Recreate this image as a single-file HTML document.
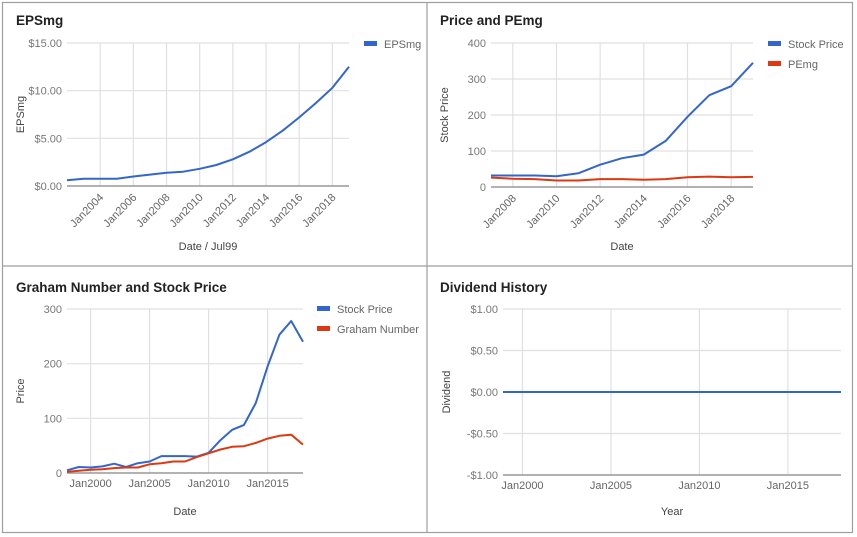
<!DOCTYPE html>
<html><head><meta charset="utf-8"><style>
body{margin:0;background:#fff;}
svg{display:block;font-family:"Liberation Sans",Arial,sans-serif;}
</style></head><body>
<svg id="svg" width="857" height="537">
<rect x="0" y="0" width="857" height="537" fill="#fff"/>
<g id="frame">
<rect x="2.5" y="2.5" width="850" height="530" fill="none" stroke="#9e9e9e" stroke-width="1.2"/>
<line x1="427" y1="2" x2="427" y2="533" stroke="#9e9e9e" stroke-width="1.2"/>
<line x1="2" y1="266" x2="853" y2="266" stroke="#9e9e9e" stroke-width="1.2"/>
</g>
</svg>
<script>
// Chart 1: EPSmg
const epsYears=[2002,2003,2004,2005,2006,2007,2008,2009,2010,2011,2012,2013,2014,2015,2016,2017,2018,2019];
const epsValues=[0.6,0.75,0.75,0.75,1.0,1.2,1.4,1.5,1.8,2.2,2.8,3.6,4.6,5.8,7.2,8.7,10.3,12.5];
const epsTicks=[0,5,10,15];
const epsTickLabels=["$0.00","$5.00","$10.00","$15.00"];
const epsXTicks=[2004,2006,2008,2010,2012,2014,2016,2018];
// Chart 2: Price and PEmg
const ppYears=[2007,2008,2009,2010,2011,2012,2013,2014,2015,2016,2017,2018,2019];
const ppStock=[32,32,32,30,38,62,80,90,128,195,255,280,345];
const ppPE=[26,23,22,18,18,22,22,20,22,27,29,27,28];
const ppTicks=[0,100,200,300,400];
const ppXTicks=[2008,2010,2012,2014,2016,2018];
// Chart 3: Graham
const grYears=[1998,1999,2000,2001,2002,2003,2004,2005,2006,2007,2008,2009,2010,2011,2012,2013,2014,2015,2016,2017,2018];
const grStock=[5,11,10,12,17,11,18,21,31,31,31,30,37,60,79,88,128,195,253,278,240];
const grGraham=[2,4,6,7,9,10,10,16,18,21,21,29,36,43,48,49,55,63,68,70,52];
const grTicks=[0,100,200,300];
const grXTicks=[2000,2005,2010,2015];
// Chart 4: Dividend
const dvYears=[1998.9,2000,2005,2010,2015,2018];
const dvValues=[0,0,0,0,0,0];
const dvTicks=[-1,-0.5,0,0.5,1];
const dvTickLabels=["-$1.00","-$0.50","$0.00","$0.50","$1.00"];
const dvXTicks=[2000,2005,2010,2015];

const NS="http://www.w3.org/2000/svg";
const svg=document.getElementById('svg');
function mk(tag,attrs,parent,text){const e=document.createElementNS(NS,tag);for(const k in attrs)e.setAttribute(k,attrs[k]);if(text!==undefined)e.textContent=text;(parent||svg).appendChild(e);return e;}
const BLUE="#3366cc",RED="#dc3912";

function chart(cfg){
  const g=mk('g',{});
  
  
  const sx=v=>cfg.x0+(v-cfg.xmin)/(cfg.xmax-cfg.xmin)*(cfg.x1-cfg.x0);
  const sy=v=>cfg.y0+(v-cfg.ymin)/(cfg.ymax-cfg.ymin)*(cfg.y1-cfg.y0);
  const t=mk('text',{x:cfg.tx,y:cfg.ty,'font-size':13.5,'font-weight':'bold',fill:'#222'},g,cfg.title);
  
  
  cfg.xticks.forEach(v=>{
    const l=mk('line',{x1:sx(v),x2:sx(v),y1:cfg.y1,y2:cfg.y0,stroke:'#e0e0e0','stroke-width':1.2},g);
    
    
    const lab='Jan'+v;
    let tx;
    if(cfg.rot){tx=mk('text',{x:sx(v)+4,y:cfg.y0+12,'font-size':11,fill:'#666','text-anchor':'end',transform:`rotate(-45 ${sx(v)+4} ${cfg.y0+12})`},g,lab);}
    else{tx=mk('text',{x:sx(v),y:cfg.y0+14,'font-size':11,fill:'#666','text-anchor':'middle'},g,lab);}
    
    
  });
  cfg.yticks.forEach((v,i)=>{
    const l=mk('line',{x1:cfg.x0,x2:cfg.x1,y1:sy(v),y2:sy(v),stroke:(v===cfg.base?'#999':'#e0e0e0'),'stroke-width':(v===cfg.base?1.5:1.2)},g);
    
    
    const tx=mk('text',{x:cfg.x0-5,y:sy(v)+4,'font-size':11,fill:'#777','text-anchor':'end'},g,cfg.ylabels?cfg.ylabels[i]:String(v));
    
    
  });
  const yt=mk('text',{x:cfg.ytx,y:(cfg.y0+cfg.y1)/2,'font-size':11,fill:'#444','text-anchor':'middle',transform:`rotate(-90 ${cfg.ytx} ${(cfg.y0+cfg.y1)/2})`},g,cfg.ytitle);
  
  
  const xt=mk('text',{x:(cfg.x0+cfg.x1)/2,y:cfg.xty,'font-size':11,fill:'#444','text-anchor':'middle'},g,cfg.xtitle);
  
  
  cfg.series.forEach((s,i)=>{
    const d=s.vals.map((v,j)=>(j?'L':'M')+sx(cfg.xs[j]).toFixed(1)+' '+sy(v).toFixed(1)).join(' ');
    const p=mk('path',{d,fill:'none',stroke:s.color,'stroke-width':2,'stroke-linejoin':'round'},g);
    
    
    if(cfg.legend){
      const ly=cfg.legend.y+i*20;
      const r=mk('rect',{x:cfg.legend.x,y:ly-3,width:13,height:5,fill:s.color},g);
      
      
      const lt=mk('text',{x:cfg.legend.x+20,y:ly+4,'font-size':11,fill:'#666'},g,s.label);
      
      
    }
  });
}
chart({name:'epsmg-chart',title:'EPSmg',tx:16,ty:25,x0:67,x1:349,xmin:2002,xmax:2019,y0:186,y1:43,ymin:0,ymax:15,base:0,
  xticks:epsXTicks,yticks:epsTicks,ylabels:epsTickLabels,rot:true,ytitle:'EPSmg',ytx:24,xtitle:'Date / Jul99',xty:250,
  xs:epsYears,series:[{key:'epsmg',label:'EPSmg',vals:epsValues,color:BLUE}],legend:{x:364,y:44}});
chart({name:'price-pemg-chart',title:'Price and PEmg',tx:440,ty:25,x0:491,x1:753,xmin:2007,xmax:2019,y0:187,y1:43,ymin:0,ymax:400,base:0,
  xticks:ppXTicks,yticks:ppTicks,rot:true,ytitle:'Stock Price',ytx:448,xtitle:'Date',xty:250,
  xs:ppYears,series:[{key:'stock-price',label:'Stock Price',vals:ppStock,color:BLUE},{key:'pemg',label:'PEmg',vals:ppPE,color:RED}],legend:{x:768,y:44}});
chart({name:'graham-chart',title:'Graham Number and Stock Price',tx:16,ty:292,x0:67,x1:303,xmin:1998,xmax:2018,y0:473,y1:309,ymin:0,ymax:300,base:0,
  xticks:grXTicks,yticks:grTicks,rot:false,ytitle:'Price',ytx:24,xtitle:'Date',xty:515,
  xs:grYears,series:[{key:'stock-price',label:'Stock Price',vals:grStock,color:BLUE},{key:'graham-number',label:'Graham Number',vals:grGraham,color:RED}],legend:{x:317,y:309}});
chart({name:'dividend-chart',title:'Dividend History',tx:440,ty:292,x0:503,x1:841,xmin:1998.9,xmax:2018,y0:475,y1:309,ymin:-1,ymax:1,base:-1,
  xticks:dvXTicks,yticks:dvTicks,ylabels:dvTickLabels,rot:false,ytitle:'Dividend',ytx:450,xtitle:'Year',xty:515,
  xs:dvYears,series:[{key:'dividend',label:'Dividend',vals:dvValues,color:BLUE}],legend:null});
</script>
</body></html>
